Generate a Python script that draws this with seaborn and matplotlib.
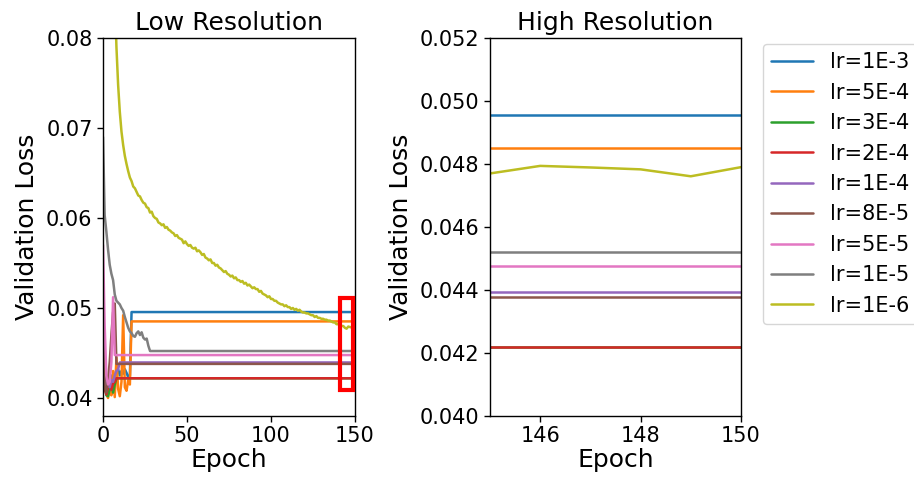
import pandas as pd
import matplotlib
matplotlib.use("Agg")
import matplotlib.pyplot as plt
from matplotlib.patches import Rectangle
import seaborn as sns

lr_labels = ["lr=1E-3", "lr=5E-4", "lr=3E-4", "lr=2E-4", "lr=1E-4",
             "lr=8E-5", "lr=5E-5", "lr=1E-5", "lr=1E-6"]
last_epoch = 150

# Validation loss per epoch (from epoch 0) until early stopping froze the checkpoint
loss_1e3 = [0.0470, 0.0425, 0.0412, 0.0408, 0.0415, 0.0425, 0.0420, 0.0418, 0.0428,
            0.0432, 0.0425, 0.0430, 0.0427, 0.0432, 0.0428, 0.0423, 0.0425]
loss_5e4 = [0.0455, 0.0420, 0.0405, 0.0400, 0.0412, 0.0403, 0.0430, 0.0401, 0.0445,
            0.0410, 0.0402, 0.0418, 0.0492, 0.0412, 0.0408, 0.0420, 0.0415]
loss_3e4 = [0.0450, 0.0415, 0.0403, 0.0402, 0.0410, 0.0418, 0.0406, 0.0415]
loss_2e4 = [0.0445, 0.0410, 0.0404, 0.0412, 0.0420, 0.0409, 0.0416, 0.0418]
loss_1e4 = [0.0460, 0.0418, 0.0410, 0.0415, 0.0412, 0.0420, 0.0418, 0.0425, 0.0430,
            0.0432]
loss_8e5 = [0.0470, 0.0412, 0.0406, 0.0420, 0.0440, 0.0470, 0.0495, 0.0505]
loss_5e5 = [0.0570, 0.0480, 0.0425, 0.0415, 0.0418, 0.0440, 0.0512]
loss_1e5 = [0.0690, 0.0603, 0.0585, 0.0565, 0.0548, 0.0538, 0.0531, 0.0515, 0.0508,
            0.0506, 0.0504, 0.0500, 0.0497, 0.0490, 0.0484, 0.0478, 0.0474, 0.0472,
            0.0469, 0.0468, 0.0472, 0.0474, 0.0470, 0.0473, 0.0467, 0.0465, 0.0466,
            0.0458]

# Loss of the frozen checkpoint for the remaining epochs
plateau_1e3 = 0.04955
plateau_5e4 = 0.04851
plateau_3e4 = 0.04219
plateau_2e4 = 0.04219
plateau_1e4 = 0.04395
plateau_8e5 = 0.04379
plateau_5e5 = 0.04477
plateau_1e5 = 0.04522

# lr=1E-6 trains for the whole run: one value per epoch, 0..150
loss_1e6 = [
    0.2000, 0.1700, 0.1500, 0.1300, 0.1150, 0.1030, 0.0930, 0.0850, 0.0790, 0.0748,
    0.0718, 0.0696, 0.0681, 0.0669, 0.0660, 0.0652, 0.0645, 0.0641, 0.0635, 0.0633,
    0.0629, 0.0625, 0.0624, 0.0620, 0.0617, 0.0616, 0.0612, 0.0611, 0.0606, 0.0607,
    0.0602, 0.0600, 0.0599, 0.0595, 0.0594, 0.0592, 0.0593, 0.0589, 0.0590, 0.0587,
    0.0586, 0.0584, 0.0583, 0.0580, 0.0581, 0.0578, 0.0577, 0.0576, 0.0572, 0.0574,
    0.0571, 0.0569, 0.0570, 0.0567, 0.0566, 0.0567, 0.0563, 0.0564, 0.0562, 0.0559,
    0.0560, 0.0556, 0.0555, 0.0553, 0.0554, 0.0550, 0.0550, 0.0547, 0.0548, 0.0545,
    0.0544, 0.0542, 0.0540, 0.0541, 0.0538, 0.0537, 0.0535, 0.0536, 0.0533, 0.0534,
    0.0531, 0.0531, 0.0529, 0.0530, 0.0527, 0.0528, 0.0525, 0.0526, 0.0524, 0.0522,
    0.0523, 0.0521, 0.0521, 0.0518, 0.0519, 0.0516, 0.0515, 0.0514, 0.0512, 0.0513,
    0.0510, 0.0510, 0.0508, 0.0508, 0.0506, 0.0505, 0.0504, 0.0504, 0.0502, 0.0503,
    0.0501, 0.0501, 0.0499, 0.0500, 0.0498, 0.0499, 0.0497, 0.0498, 0.0496, 0.0495,
    0.0495, 0.0494, 0.0494, 0.0493, 0.0492, 0.0492, 0.0490, 0.0491, 0.0489, 0.0489,
    0.0488, 0.0488, 0.0487, 0.0487, 0.0486, 0.0486, 0.0485, 0.0484, 0.0484, 0.0482,
    0.0482, 0.0481, 0.0480, 0.0480, 0.0478, 0.04770, 0.04794, 0.04789, 0.04783, 0.04761,
    0.04790,
]

stopped_runs = [
    ("lr=1E-3", loss_1e3, plateau_1e3),
    ("lr=5E-4", loss_5e4, plateau_5e4),
    ("lr=3E-4", loss_3e4, plateau_3e4),
    ("lr=2E-4", loss_2e4, plateau_2e4),
    ("lr=1E-4", loss_1e4, plateau_1e4),
    ("lr=8E-5", loss_8e5, plateau_8e5),
    ("lr=5E-5", loss_5e5, plateau_5e5),
    ("lr=1E-5", loss_1e5, plateau_1e5),
]

rows = []
for label, head, plateau in stopped_runs:
    for ep, v in enumerate(head):
        rows.append((ep, v, label))
    # frozen checkpoint: flat segment to the end of the run
    rows.append((len(head), plateau, label))
    rows.append((last_epoch, plateau, label))
for ep, v in enumerate(loss_1e6):
    rows.append((ep, v, "lr=1E-6"))

df = pd.DataFrame(rows, columns=["Epoch", "Validation Loss", "lr"])

sns.set_style("ticks", {"axes.edgecolor": "black", "xtick.color": "black",
                        "ytick.color": "black", "text.color": "black",
                        "axes.labelcolor": "black"})
plt.rcParams["font.family"] = ["DejaVu Sans"]

palette = sns.color_palette("tab10", 9)

fig = plt.figure(figsize=(9.14, 4.82), dpi=100)
ax1 = fig.add_axes([103 / 914, 1 - 416 / 482, 252 / 914, 378 / 482])
ax2 = fig.add_axes([490 / 914, 1 - 416 / 482, 251 / 914, 378 / 482])

for ax, show_legend in ((ax1, False), (ax2, True)):
    sns.lineplot(data=df, x="Epoch", y="Validation Loss", hue="lr",
                 hue_order=lr_labels, palette=palette, estimator=None,
                 errorbar=None, linewidth=1.8, ax=ax, legend=show_legend)
    ax.tick_params(labelsize=15, length=4, width=1)
    ax.set_xlabel("Epoch", fontsize=18, labelpad=1)
    ax.set_ylabel("Validation Loss", fontsize=18, labelpad=5)
    for s in ax.spines.values():
        s.set_linewidth(1.0)

ax1.set_xlim(0, 150)
ax1.set_ylim(0.038, 0.08)
ax1.set_xticks([0, 50, 100, 150])
ax1.set_yticks([0.04, 0.05, 0.06, 0.07, 0.08])
ax1.set_title("Low Resolution", fontsize=18, pad=6)

ax2.set_xlim(145, 150)
ax2.set_ylim(0.040, 0.052)
ax2.set_xticks([146, 148, 150])
ax2.set_yticks([0.040, 0.042, 0.044, 0.046, 0.048, 0.050, 0.052])
ax2.set_yticklabels([f"{t:.3f}" for t in ax2.get_yticks()])
ax2.set_title("High Resolution", fontsize=18, pad=6)

# zoom window marking the range shown in the right panel
ax1.add_patch(Rectangle((141.1, 0.0409), 7.7, 0.0102, fill=False,
                        edgecolor="red", linewidth=3, zorder=5, clip_on=False))

sns.move_legend(ax2, "upper left", bbox_to_anchor=(763 / 914, 1 - 44 / 482),
                bbox_transform=fig.transFigure, title=None, fontsize=15,
                borderaxespad=0, frameon=True)

fig.savefig("out.png", dpi=100)
